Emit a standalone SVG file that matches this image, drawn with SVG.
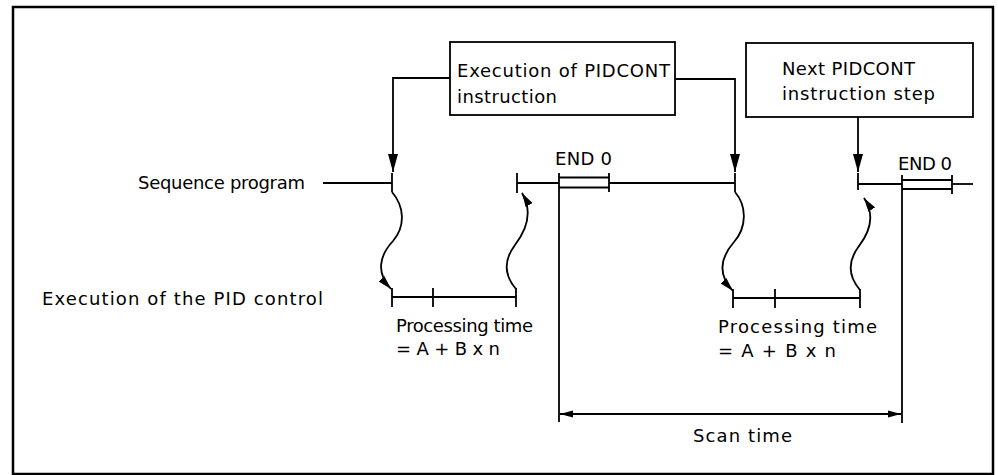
<svg xmlns="http://www.w3.org/2000/svg" width="998" height="475" viewBox="0 0 998 475">
<defs>
<marker id="ah" viewBox="0 0 14 9" refX="14" refY="4.5" markerWidth="14" markerHeight="9" markerUnits="userSpaceOnUse" orient="auto"><path d="M0,0.5 L14,4.5 L0,8.5 Z" fill="#000"/></marker>
<marker id="ahBig" viewBox="0 0 18 11" refX="18" refY="5.5" markerWidth="18" markerHeight="11" markerUnits="userSpaceOnUse" orient="auto"><path d="M0,0.5 L18,5.5 L0,10.5 Z" fill="#000"/></marker>
<marker id="ahS" viewBox="0 0 13 8" refX="13" refY="4" markerWidth="13" markerHeight="8" markerUnits="userSpaceOnUse" orient="auto-start-reverse"><path d="M0,0.5 L13,4 L0,7.5 Z" fill="#000"/></marker>
</defs>
<style>
.t{font-family:"DejaVu Sans","Liberation Sans",sans-serif;font-size:18px;fill:#000}
.ln{stroke:#000;stroke-width:1.8;fill:none}
.bx{stroke:#000;stroke-width:1.8;fill:#fff}
</style>
<rect x="0" y="0" width="998" height="475" fill="#fff"/>
<rect x="13" y="7" width="980" height="467" fill="none" stroke="#000" stroke-width="2.5"/>

<g id="box-exec">
<rect class="bx" x="450" y="42" width="225" height="73"/>
<text class="t" x="457" y="77" textLength="213" lengthAdjust="spacing">Execution of PIDCONT</text>
<text class="t" x="457" y="103" textLength="100" lengthAdjust="spacing">instruction</text>
</g>
<g id="box-next">
<rect class="bx" x="746" y="43" width="227" height="74"/>
<text class="t" x="782" y="75" textLength="133" lengthAdjust="spacing">Next PIDCONT</text>
<text class="t" x="782" y="100" textLength="153" lengthAdjust="spacing">instruction step</text>
</g>
<g id="labels">
<text class="t" x="138" y="189" textLength="167" lengthAdjust="spacing">Sequence program</text>
<text class="t" x="42" y="305" textLength="281" lengthAdjust="spacing">Execution of the PID control</text>
<text class="t" x="396" y="332" textLength="137" lengthAdjust="spacing">Processing time</text>
<text class="t" x="396" y="355" textLength="104" lengthAdjust="spacing">= A + B x n</text>
<text class="t" x="718" y="333" textLength="159" lengthAdjust="spacing">Processing time</text>
<text class="t" x="718" y="357" textLength="118" lengthAdjust="spacing">= A + B x n</text>
<text class="t" x="555" y="165" textLength="57" lengthAdjust="spacing">END 0</text>
<text class="t" x="898" y="170" textLength="54" lengthAdjust="spacing">END 0</text>
<text class="t" x="693" y="442" textLength="99" lengthAdjust="spacing">Scan time</text>
</g>

<g id="connectors">
<path class="ln" d="M450,78 H393 V172" marker-end="url(#ahBig)"/>
<path class="ln" d="M675,79 H735 V172" marker-end="url(#ahBig)"/>
<path class="ln" d="M858,117 V172" marker-end="url(#ahBig)"/>

<path class="ln" d="M323,183 H392"/>
<path class="ln" d="M392,173 V192"/>
<path class="ln" d="M517,173 V193"/>
<path class="ln" d="M517,183 H559"/>
<path class="ln" d="M559,173 V192 M609,173 V192 M559,177.5 H609 M559,187.5 H609"/>
<path class="ln" d="M609,183 H735"/>
<path class="ln" d="M735,173 V192"/>
<path class="ln" d="M858,173 V190"/>
<path class="ln" d="M858,184 H902"/>
<path class="ln" d="M902,175 V194 M952,175 V194 M902,180 H952 M902,189 H952"/>
<path class="ln" d="M952,184 H973"/>

<path class="ln" d="M392,192 C404,206 406,226 393,241 C379,256 376,273 391,289" marker-end="url(#ah)"/>
<path class="ln" d="M516,289 C504,275 503,261 515,245 C528,228 532,210 522,193" marker-end="url(#ah)"/>
<path class="ln" d="M392,297 H516 M392,288 V307 M433,288 V307 M516,288 V307"/>

<path class="ln" d="M735,192 C747,206 747,227 734,242 C720,258 718,275 733,291" marker-end="url(#ah)"/>
<path class="ln" d="M860,290 C848,276 847,262 859,246 C872,229 874,213 864,198" marker-end="url(#ah)"/>
<path class="ln" d="M733,298 H860 M733,289 V308 M775,289 V308 M860,289 V308"/>

<path class="ln" d="M559,192 V422" stroke-width="1.3"/>
<path class="ln" d="M902,194 V423" stroke-width="1.3"/>
<path class="ln" d="M560,414 H901" marker-start="url(#ahS)" marker-end="url(#ahS)"/>
</g>
</svg>
